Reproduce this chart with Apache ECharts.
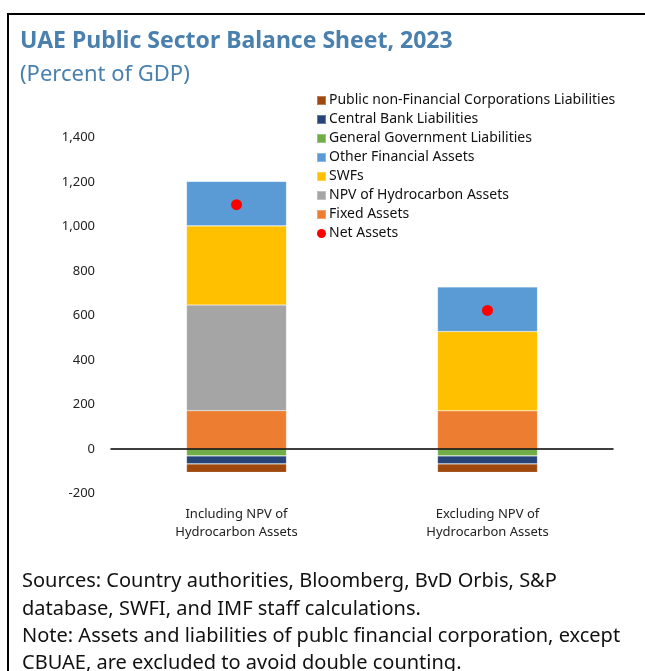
<!DOCTYPE html>
<html>
<head>
<meta charset="utf-8">
<script src="https://cdn.jsdelivr.net/npm/echarts@6/dist/echarts.min.js"></script>
<style>
  html, body { margin: 0; padding: 0; background: #fff; }
  #chart { width: 645px; height: 671px; }
</style>
</head>
<body>
<div id="chart"></div>
<script>
// Categories and balance-sheet components (percent of GDP)
const categories = ['Including NPV of\nHydrocarbon Assets', 'Excluding NPV of\nHydrocarbon Assets'];

const fixedAssets = [172, 172];
const npvHydrocarbon = [475, 0];
const swfs = [356, 356];
const otherFinancial = [200, 200];
const genGovLiabilities = [-31, -31];
const centralBankLiabilities = [-36, -36];
const pnfcLiabilities = [-38, -38];
const netAssets = [1098, 623];

const yTicks = { min: -200, max: 1400, step: 200 };

const legendOrder = [
  'Public non-Financial Corporations Liabilities',
  'Central Bank Liabilities',
  'General Government Liabilities',
  'Other Financial Assets',
  'SWFs',
  'NPV of Hydrocarbon Assets',
  'Fixed Assets',
  'Net Assets'
];

const FONT = 'Noto Sans';
const titleColor = '#4a80ad';

function barSeries(name, data, color) {
  return {
    name: name,
    type: 'bar',
    stack: 'total',
    barWidth: 100,
    data: data,
    itemStyle: { color: color, borderColor: 'rgba(255,255,255,0.3)', borderWidth: 0.6 },
    emphasis: { disabled: true }
  };
}

const chart = echarts.init(document.getElementById('chart'), null, { renderer: 'canvas' });

chart.setOption({
  animation: false,
  backgroundColor: '#fff',
  textStyle: { fontFamily: FONT },
  title: [
    {
      text: 'UAE Public Sector Balance Sheet, 2023',
      left: 15, top: 25,
      textStyle: { fontFamily: FONT, fontSize: 23, fontWeight: 'bold', color: titleColor }
    },
    {
      text: '(Percent of GDP)',
      left: 15, top: 59,
      textStyle: { fontFamily: FONT, fontSize: 22, fontWeight: 'normal', color: titleColor }
    }
  ],
  legend: {
    orient: 'vertical',
    left: 311, top: 88,
    itemWidth: 9, itemHeight: 9,
    itemGap: 4,
    data: legendOrder.map(n => n === 'Net Assets' ? { name: n, icon: 'circle' } : { name: n, icon: 'rect' }),
    textStyle: { fontFamily: FONT, fontSize: 14, color: '#111', lineHeight: 15, padding: [0, 0, 0, -2] },
    selectedMode: false
  },
  grid: { left: 111, right: 32, top: 137.5, bottom: 177.5, containLabel: false },
  xAxis: {
    type: 'category',
    data: categories,
    z: 5,
    axisLine: { onZero: true, lineStyle: { color: '#000', width: 1.5 } },
    axisTick: { show: false },
    axisLabel: { margin: 12, fontFamily: FONT, fontSize: 13, color: '#222', lineHeight: 18 }
  },
  yAxis: {
    type: 'value',
    min: yTicks.min, max: yTicks.max, interval: yTicks.step,
    axisLine: { show: false },
    axisTick: { show: false },
    splitLine: { show: false },
    axisLabel: {
      margin: 16, fontFamily: FONT, fontSize: 13, color: '#222',
      formatter: v => v.toLocaleString('en-US')
    }
  },
  series: [
    barSeries('Fixed Assets', fixedAssets, '#ED7D31'),
    barSeries('NPV of Hydrocarbon Assets', npvHydrocarbon, '#A5A5A5'),
    barSeries('SWFs', swfs, '#FFC000'),
    barSeries('Other Financial Assets', otherFinancial, '#5B9BD5'),
    barSeries('General Government Liabilities', genGovLiabilities, '#70AD47'),
    barSeries('Central Bank Liabilities', centralBankLiabilities, '#264478'),
    barSeries('Public non-Financial Corporations Liabilities', pnfcLiabilities, '#9E480E'),
    {
      name: 'Net Assets',
      type: 'scatter',
      symbol: 'circle',
      symbolSize: 11,
      z: 10,
      data: netAssets,
      itemStyle: { color: '#FF0000', opacity: 1 },
      emphasis: { disabled: true }
    }
  ],
  graphic: [
    {
      type: 'rect',
      shape: { x: 8, y: 14, width: 700, height: 700 },
      style: { fill: 'none', stroke: '#000', lineWidth: 2 },
      z: 100
    },
    {
      type: 'text',
      left: 22, top: 568,
      style: {
        text: 'Sources: Country authorities, Bloomberg, BvD Orbis, S&P\ndatabase, SWFI, and IMF staff calculations.\nNote: Assets and liabilities of publc financial corporation, except\nCBUAE, are excluded to avoid double counting.',
        font: '20px "Noto Sans"',
        lineHeight: 27.3,
        fill: '#111'
      }
    }
  ]
});
</script>
</body>
</html>
